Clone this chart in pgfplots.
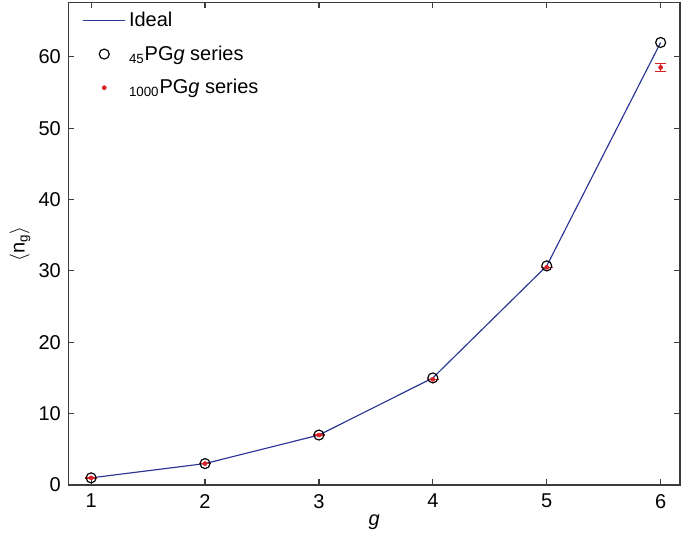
\documentclass[border=0pt]{standalone}
\usepackage{fontspec}
\setmainfont{Liberation Sans}
\usepackage{pgfplots}
\pgfplotsset{compat=1.18}
\definecolor{idealblue}{RGB}{45,55,150}
\definecolor{ptred}{RGB}{215,35,40}
\definecolor{axgray}{RGB}{60,60,60}

\begin{document}
\begin{tikzpicture}
\begin{axis}[
  scale only axis,
  width=367pt, height=289.5pt,
  xmin=0.8, xmax=6.17,
  ymin=0, ymax=67.6,
  xtick={1,2,3,4,5,6},
  ytick={0,10,20,30,40,50,60},
  tick align=inside,
  major tick length=3.5pt,
  axis line style={axgray, line width=0.9pt},
  every tick/.style={axgray, line width=0.7pt},
  font=\fontsize{12}{14}\selectfont,
  /pgf/number format/assume math mode=true,
  xticklabel style={yshift=-2pt},
  yticklabel style={xshift=-1pt},
  xlabel={\textit{g}},
  ylabel={$\langle$n\textsubscript{g}$\rangle$},
  xlabel style={yshift=3pt},
  ylabel style={yshift=-2pt},
  legend style={draw=none, fill=none, at={(0.015,0.995)}, anchor=north west,
    font=\fontsize{12}{14}\selectfont, row sep=6pt, cells={anchor=west}},
  legend cell align=left,
]

% ideal curve
\addplot[idealblue, line width=0.7pt, mark=none,
  legend image code/.code={\draw[idealblue, line width=0.7pt] (0pt,0pt) -- (25pt,0pt);}]
  coordinates {
  (1,1) (2,3) (3,7) (4,15) (5,30.7) (6,62)
};
\addlegendentry{Ideal}

% 45PGg series
\addplot[only marks, mark=o, mark size=3pt, black, line width=0.7pt,
  legend image code/.code={\draw[black, line width=0.7pt] (12.5pt,0pt) circle (3pt);}]
  coordinates {
  (1,1) (2,3) (3,7) (4,15) (5,30.7) (6,62)
};
\addlegendentry{\textsubscript{45}PG\textit{g} series}

% 1000PGg series
\addplot[only marks, mark=*, mark size=1.2pt, ptred,
  legend image code/.code={\fill[ptred] (12.5pt,0pt) circle (1.2pt);},
  error bars/.cd, y dir=both, y explicit,
  error bar style={line width=0.9pt}, error mark options={rotate=90, mark size=3.5pt, line width=0.9pt},
] coordinates {
  (1,1) +- (0,0)
  (2,3) +- (0,0)
  (3,7) +- (0,0)
  (4,14.8) +- (0,0)
  (5,30.5) +- (0,0)
  (6,58.5) +- (0,0.55)
};
\addlegendentry{\textsubscript{1000}PG\textit{g} series}

\end{axis}
\pgfresetboundingbox
\path (current axis.south west) ++(-41pt,-30pt) rectangle ++(411pt,321pt);
\end{tikzpicture}
\end{document}
